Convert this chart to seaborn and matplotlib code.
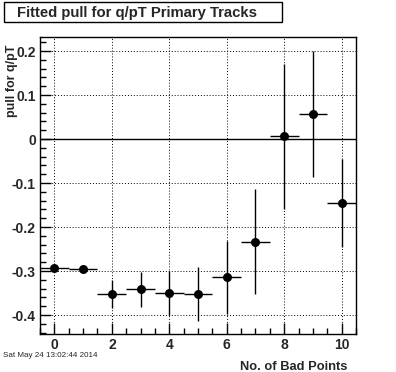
import numpy as np
import pandas as pd
import seaborn as sb
from matplotlib import pyplot as plt
from matplotlib.patches import Rectangle
from matplotlib.ticker import MultipleLocator

# data
bad_points = [0, 1, 2, 3, 4, 5, 6, 7, 8, 9, 10]
pull = [-0.293, -0.295, -0.352, -0.341, -0.349, -0.352, -0.314, -0.233, 0.006, 0.057, -0.145]
pull_err = [0.004, 0.004, 0.032, 0.040, 0.050, 0.061, 0.083, 0.119, 0.165, 0.143, 0.100]
bin_half = [0.5] * 11

sb.set_style("white")
plt.rcParams['font.family'] = ['Liberation Sans', 'DejaVu Sans']
plt.rcParams['font.weight'] = 'bold'

df = pd.DataFrame({"x": bad_points, "y": pull, "ey": pull_err, "ex": bin_half})

fig = plt.figure(figsize=(3.96, 3.72), dpi=100)
W, H = 396.0, 372.0
ax = fig.add_axes([40 / W, 1 - 334 / H, 316 / W, 297 / H])

ax.errorbar(df["x"], df["y"], yerr=df["ey"], xerr=df["ex"], fmt="none",
            ecolor="black", elinewidth=1.0, capsize=0, zorder=3)
sb.scatterplot(data=df, x="x", y="y", ax=ax, color="black", s=42,
               edgecolor="black", linewidth=0, zorder=4, legend=False)
ax.axhline(0, color="black", lw=1.0, zorder=2)

ax.set_xlim(-0.5, 10.5)
ax.set_ylim(-0.443, 0.232)
ax.xaxis.set_major_locator(MultipleLocator(2))
ax.xaxis.set_minor_locator(MultipleLocator(0.5))
ax.yaxis.set_minor_locator(MultipleLocator(0.02))
ax.set_yticks([-0.4, -0.3, -0.2, -0.1, 0, 0.1, 0.2])
ax.set_yticklabels(["-0.4", "-0.3", "-0.2", "-0.1", "0", "0.1", "0.2"])
ax.grid(True, which="major", color="black", linestyle=(0, (1, 2)), lw=0.7)
ax.tick_params(which="both", direction="in", left=True, bottom=True,
               top=False, right=False, labelsize=10, pad=3, color="black")
ax.tick_params(which="major", length=8, width=1)
ax.tick_params(which="minor", length=4, width=1)
for s in ax.spines.values():
    s.set_color("black")
    s.set_linewidth(1.0)
ax.set_xlabel("")
ax.set_ylabel("")

fig.text(12 / W, 1 - 45 / H, "pull for q/pT", rotation=90, ha="center", va="top",
         fontsize=9, fontweight="bold")
fig.text(347 / W, 1 - 370 / H, "No. of Bad Points", ha="right", va="baseline",
         fontsize=9.3, fontweight="bold")
fig.text(3 / W, 1 - 357 / H, "Sat May 24 13:02:44 2014", ha="left", va="baseline",
         fontsize=5.8, fontweight="normal")

fig.patches.append(Rectangle((4 / W, 1 - 22 / H), 278 / W, 20 / H, transform=fig.transFigure,
                             fill=False, edgecolor="black", lw=1.0))
fig.text(17 / W, 1 - 16.5 / H, "Fitted pull for q/pT Primary Tracks", ha="left", va="baseline",
         fontsize=10.7, fontweight="bold")

fig.savefig("out.png", dpi=100)
